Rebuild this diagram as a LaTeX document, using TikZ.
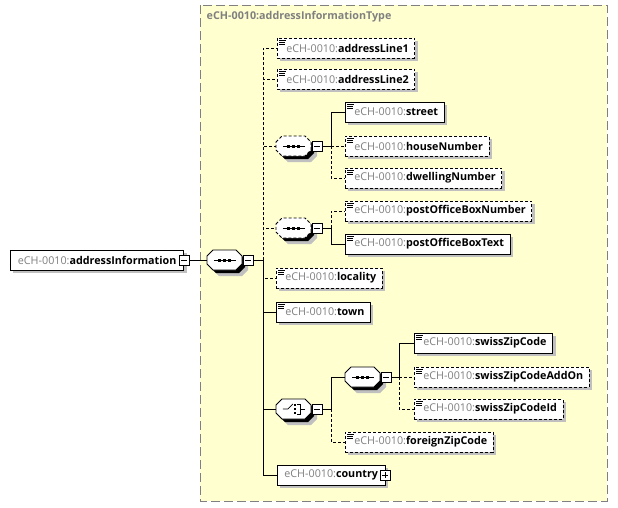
\documentclass[tikz,border=0pt]{standalone}
\usepackage{fontspec}
\setmainfont{Open Sans}
\usetikzlibrary{shadows,calc}

\definecolor{pfx}{HTML}{808080}
\definecolor{bgyel}{HTML}{FFFFD0}
\definecolor{shd}{HTML}{C0C0C0}
\newcommand{\el}[1]{{\color{pfx}eCH-0010:}\textbf{#1}}
% octagon of a compositor, drawn round an (invisible) node
\newcommand{\compo}[2]{%
  \fill[shd] ([shift={(3,3)}]#1.west) ++(0,-4) -- ++(6,-6) -- ++(23,0) -- ++(6,6)
    -- ++(0,8) -- ++(-6,6) -- ++(-23,0) -- ++(-6,-6) -- cycle;
  \draw[fill=white, #2] (#1.west) ++(0,-4) -- ++(6,-6) -- ++(23,0) -- ++(6,6)
    -- ++(0,8) -- ++(-6,6) -- ++(-23,0) -- ++(-6,-6) -- cycle;}
\newcommand{\seqsym}[1]{%
  \draw (#1.center) +(-11,0) -- +(11,0);
  \foreach \d in {-5,0,5}
    \fill ([shift={(\d-1.5,-1.5)}]#1.center) rectangle ++(3,3);}
\newcommand{\choicesym}[1]{%
  \draw (#1.center) +(-11,0) -- +(-6,0) -- +(-1,-5);
  \foreach \d in {-4,0,4}
    \fill ([shift={(0.5,\d-1)}]#1.center) rectangle ++(2,2);
  \draw (#1.center) +(3,-5) -- +(6,-5) -- +(6,5) -- +(3,5);
  \draw (#1.center) +(6,0) -- +(11,0);}

\begin{document}
\begin{tikzpicture}[x=1pt, y=-1pt, line width=0.8pt,
    font=\fontsize{10.75}{12}\selectfont,
    shd/.style={drop shadow={shadow xshift=3pt, shadow yshift=-3pt, fill=shd, opacity=1}},
    elem/.style={draw, fill=white, anchor=west, minimum height=20pt,
      inner xsep=6pt, inner ysep=0pt, shd},
    opt/.style={dash pattern=on 3pt off 2pt},
    icon/.style={execute at begin node=\hspace{3pt}, path picture={
      \foreach \i/\w in {2/7,4/6,6/6}
        \draw[solid, line width=0.6pt] ([shift={(2,\i)}]path picture bounding box.north west) -- ++(\w,0);}},
    comp/.style={rectangle, anchor=west, minimum width=35pt, minimum height=20pt, inner sep=0pt},
    pm/.style={draw, solid, fill=white, minimum size=10pt, inner sep=0pt, line width=0.6pt},
    minus/.style={path picture={
      \draw ([shift={(-3,0)}]path picture bounding box.center) -- ++(6,0);}},
    plus/.style={path picture={
      \draw ([shift={(-3,0)}]path picture bounding box.center) -- ++(6,0);
      \draw ([shift={(0,-3)}]path picture bounding box.center) -- ++(0,6);}},
    olink/.style={dash pattern=on 3pt off 2pt}]

  \useasboundingbox (0,0) rectangle (618,507);

  % complex type background
  \draw[fill=bgyel, draw=gray, line width=1pt, dash pattern=on 9pt off 4pt]
    (200,5) rectangle (607,501);
  \node[anchor=west, text=pfx, font=\fontsize{10.75}{12}\selectfont\bfseries] (title) at (203,17)
    {eCH-0010:addressInformationType};

  % root element
  \node[elem, inner xsep=7.5pt] (root) at (10,260) {\el{addressInformation}\hspace{6pt}};
  \node[pm, minus] (root-m) at (root.east) {};
  \node[comp] (seqA) at (207,260) {};
  \compo{seqA}{solid} \seqsym{seqA}
  \node[pm, minus, anchor=west] (seqA-m) at (seqA.east) {};
  \coordinate (bA) at ($(seqA-m.east)+(10,0)$);

  % children of the main sequence
  \node[elem, opt, icon] (line1) at (277,48) {\el{addressLine1}};
  \node[elem, opt, icon] (line2) at (277,79) {\el{addressLine2}};

  \node[comp] (seqB) at (276,146) {};
  \compo{seqB}{opt} \seqsym{seqB}
  \node[pm, minus, anchor=west] (seqB-m) at (seqB.east) {};
  \coordinate (bB) at ($(seqB-m.east)+(9,0)$);
  \node[elem, icon] (street) at (345,112) {\el{street}};
  \node[elem, opt, icon] (house) at (345,146) {\el{houseNumber}};
  \node[elem, opt, icon] (dwell) at (345,178) {\el{dwellingNumber}};

  \node[comp] (seqC) at (276,228) {};
  \compo{seqC}{opt} \seqsym{seqC}
  \node[pm, minus, anchor=west] (seqC-m) at (seqC.east) {};
  \coordinate (bC) at ($(seqC-m.east)+(9,0)$);
  \node[elem, opt, icon] (pobNum) at (345,211) {\el{postOfficeBoxNumber}};
  \node[elem, icon] (pobText) at (345,244) {\el{postOfficeBoxText}};

  \node[elem, opt, icon] (locality) at (276,278) {\el{locality}};
  \node[elem, icon] (town) at (276,312) {\el{town}};

  \node[comp] (choice) at (276,409) {};
  \compo{choice}{solid} \choicesym{choice}
  \node[pm, minus, anchor=west] (choice-m) at (choice.east) {};
  \coordinate (bD) at ($(choice-m.east)+(9,0)$);
  \node[comp] (seqD) at (345,377) {};
  \compo{seqD}{solid} \seqsym{seqD}
  \node[pm, minus, anchor=west] (seqD-m) at (seqD.east) {};
  \coordinate (bE) at ($(seqD-m.east)+(8,0)$);
  \node[elem, icon] (zip) at (414,343) {\el{swissZipCode}};
  \node[elem, opt, icon] (zipAdd) at (414,377) {\el{swissZipCodeAddOn}};
  \node[elem, opt, icon] (zipId) at (414,409) {\el{swissZipCodeId}};
  \node[elem, opt, icon] (foreign) at (345,442) {\el{foreignZipCode}};

  \node[elem, inner xsep=7pt] (country) at (277,475) {\el{country}\hspace{5pt}};
  \node[pm, plus] (country-p) at (country.east) {};

  % connectors, optional ones first
  \draw[olink] (bA) |- (line1.west);
  \draw[olink] (bA) |- (line2.west);
  \draw[olink] (bA) |- (seqB.west);
  \draw[olink] (bA) |- (seqC.west);
  \draw[olink] (bA) |- (locality.west);
  \draw[olink] (bB) -- (house.west);
  \draw[olink] (bB) |- (dwell.west);
  \draw[olink] (bC) |- (pobNum.west);
  \draw[olink] (bD) |- (foreign.west);
  \draw[olink] (bE) -- (zipAdd.west);
  \draw[olink] (bE) |- (zipId.west);

  \draw (root-m.east) -- (seqA.west);
  \draw (seqA-m.east) -- (bA);
  \draw (bA) |- (town.west);
  \draw (bA) |- (choice.west);
  \draw (bA) |- (country.west);
  \draw (seqB-m.east) -- (bB) |- (street.west);
  \draw (seqC-m.east) -- (bC) |- (pobText.west);
  \draw (choice-m.east) -- (bD) |- (seqD.west);
  \draw (seqD-m.east) -- (bE) |- (zip.west);
\end{tikzpicture}
\end{document}
